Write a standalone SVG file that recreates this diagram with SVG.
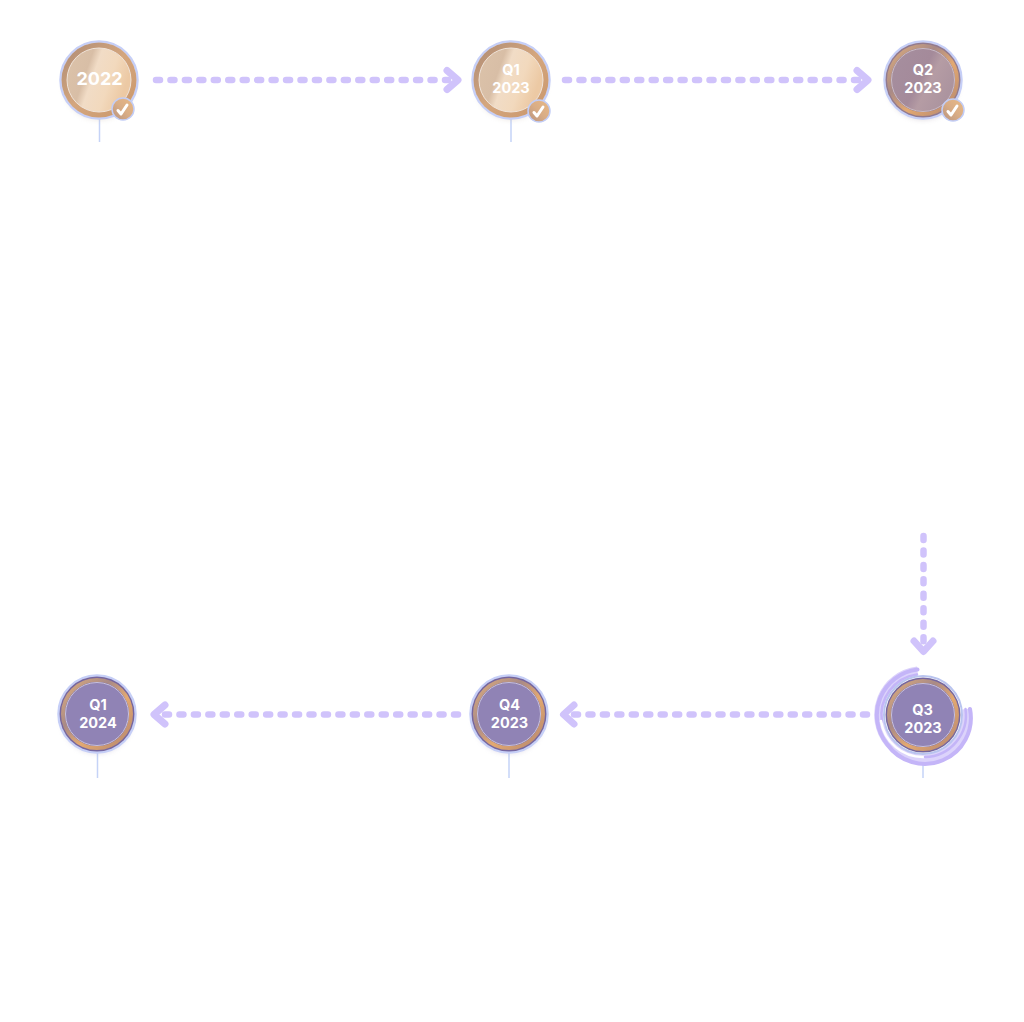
<svg xmlns="http://www.w3.org/2000/svg" width="1024" height="1022" viewBox="0 0 1024 1022">
<style>
.bg{fill:#fff}
.dash{fill:none;stroke:#d0c3fb;stroke-width:6.500;stroke-linecap:round;stroke-dasharray:4 10.450}
.head{fill:none;stroke:#d0c3fb;stroke-width:7;stroke-linecap:round;stroke-linejoin:round}
.stem{stroke:#c5d3f7;stroke-width:1.500;fill:none}
.halo{fill:none;stroke:#c6cff7;stroke-width:2.500}
.lbl{font-family:"Inter","Liberation Sans",sans-serif;font-weight:700;fill:#fff;text-anchor:middle}
.s14{font-size:14.500px}
.s18{font-size:18px}
.tick{fill:none;stroke:#fff;stroke-width:3;stroke-linecap:round;stroke-linejoin:round}
.arc{fill:none;stroke:#c4b5f8;stroke-linecap:round}
.rim{fill:none;stroke:#c9c2dd;stroke-width:1}
</style>
<defs>
<linearGradient id="ringGold" x1="0" y1="0" x2="1" y2="1">
<stop offset="0" stop-color="#dfae7c"/><stop offset=".35" stop-color="#a98a86"/><stop offset=".6" stop-color="#e3a971"/><stop offset="1" stop-color="#b28570"/>
</linearGradient>
<linearGradient id="ringLight" x1="0" y1="0" x2="1" y2="1">
<stop offset="0" stop-color="#ad8b75"/><stop offset=".5" stop-color="#d4a67e"/><stop offset="1" stop-color="#c9966a"/>
</linearGradient>
<linearGradient id="faceCream" x1="0" y1="0" x2="1" y2=".35">
<stop offset="0" stop-color="#dcc3aa"/><stop offset=".38" stop-color="#d8bea6"/><stop offset=".5" stop-color="#f1dcc6"/><stop offset=".75" stop-color="#f2d9bd"/><stop offset="1" stop-color="#ecc9a4"/>
</linearGradient>
<linearGradient id="faceMauve" x1="0" y1="0" x2="1" y2=".5">
<stop offset="0" stop-color="#a68f9f"/><stop offset=".55" stop-color="#a48a9a"/><stop offset=".7" stop-color="#b59ca4"/><stop offset="1" stop-color="#ac949f"/>
</linearGradient>
<linearGradient id="badge" x1="0" y1="1" x2="1" y2="0">
<stop offset="0" stop-color="#b8937f"/><stop offset=".5" stop-color="#d9ad86"/><stop offset="1" stop-color="#e9b985"/>
</linearGradient>
<filter id="soft" x="-30%" y="-30%" width="160%" height="160%"><feGaussianBlur stdDeviation="2.500"/></filter>
</defs>
<rect class="bg" width="1024" height="1022"/>

<g id="connectors">
<path class="dash" d="M156 80H448"/><path class="head" d="M447 70.500L458 80L447 89.500"/>
<path class="dash" d="M565 80H858"/><path class="head" d="M857 70.500L868 80L857 89.500"/>
<path class="dash" d="M923.500 536V642"/><path class="head" d="M914 641L923.500 651.500L933 641"/>
<path class="dash" d="M867 714.500H572"/><path class="head" d="M574 705L563.500 714.500L574 724"/>
<path class="dash" d="M458 714.500H163"/><path class="head" d="M165 705L154 714.500L165 724"/>
</g>

<g id="node-2022">
<path class="stem" d="M99.500 118V142"/>
<circle cx="99" cy="84" r="36" fill="#c9b8a8" opacity=".35" filter="url(#soft)"/>
<circle class="halo" cx="99" cy="80" r="38.500"/>
<circle cx="99" cy="80" r="37.500" fill="url(#ringLight)"/>
<circle cx="99" cy="80" r="32" fill="url(#faceCream)" stroke="#f0e4da" stroke-width="1"/>
<text class="lbl s18" x="99.500" y="84.500">2022</text>
<circle cx="123" cy="109" r="11" fill="url(#badge)" stroke="#c2cdf6" stroke-width="1.500"/>
<path class="tick" d="M118 110.500L121 114L127 105"/>
</g>

<g id="node-q1-2023">
<path class="stem" d="M511 118V142"/>
<circle cx="511" cy="84" r="36" fill="#c9b8a8" opacity=".35" filter="url(#soft)"/>
<circle class="halo" cx="511" cy="80" r="38.500"/>
<circle cx="511" cy="80" r="37.500" fill="url(#ringLight)"/>
<circle cx="511" cy="80" r="32" fill="url(#faceCream)" stroke="#f0e4da" stroke-width="1"/>
<text class="lbl s14" x="511" y="75">Q1</text>
<text class="lbl s14" x="511" y="93">2023</text>
<circle cx="539" cy="111" r="11" fill="url(#badge)" stroke="#c2cdf6" stroke-width="1.500"/>
<path class="tick" d="M534 112.500L537 116L543 107"/>
</g>

<g id="node-q2-2023">
<circle cx="923" cy="84" r="36" fill="#a99aa8" opacity=".35" filter="url(#soft)"/>
<circle class="halo" cx="923" cy="80" r="38.500"/>
<circle cx="923" cy="80" r="37.500" fill="#917a8f"/>
<circle cx="923" cy="80" r="34" fill="none" stroke="url(#ringGold)" stroke-width="4"/>
<circle cx="923" cy="80" r="31.500" fill="url(#faceMauve)" stroke="#cbbcc6" stroke-width="1"/>
<text class="lbl s14" x="923" y="75">Q2</text>
<text class="lbl s14" x="923" y="93">2023</text>
<circle cx="953" cy="110" r="11" fill="url(#badge)" stroke="#c2cdf6" stroke-width="1.500"/>
<path class="tick" d="M948 111.500L951 115L957 106"/>
</g>

<g id="node-q3-2023">
<path class="stem" d="M923 760V778"/>
<path fill="none" stroke="#dcd3fb" stroke-width="9" d="M917.500 671A44 44 0 0 0 889 743A44 44 0 0 0 966.500 709"/>
<path class="arc" stroke-width="4" d="M917.500 669.500A46 46 0 0 0 887 744A46 46 0 0 0 970 709"/>
<path class="arc" stroke-width="2.500" d="M917 674.500A41 41 0 0 0 882 722"/>
<path fill="none" stroke="#fff" stroke-width="2.500" stroke-linecap="round" d="M881 721A42.500 42.500 0 0 0 924 757"/>
<path class="arc" stroke-width="2.500" d="M925 757A42 42 0 0 0 965.500 709"/>
<circle cx="923" cy="715" r="39" fill="none" stroke="#b9c4ef" stroke-width="2"/>
<circle cx="923" cy="715" r="37.500" fill="#75669f"/>
<circle cx="923" cy="715" r="34" fill="none" stroke="url(#ringGold)" stroke-width="4"/>
<circle cx="923" cy="715" r="31.500" fill="#9083b5"/>
<circle class="rim" cx="923" cy="715" r="31.500"/>
<text class="lbl s14" x="922.500" y="715">Q3</text>
<text class="lbl s14" x="923" y="733">2023</text>
</g>

<g id="node-q4-2023">
<path class="stem" d="M509 753V778"/>
<circle cx="509" cy="718" r="36" fill="#a9a2c4" opacity=".3" filter="url(#soft)"/>
<circle class="halo" cx="509" cy="714" r="38.500"/>
<circle cx="509" cy="714" r="37.500" fill="#75669f"/>
<circle cx="509" cy="714" r="34" fill="none" stroke="url(#ringGold)" stroke-width="4"/>
<circle cx="509" cy="714" r="31.500" fill="#9083b5"/>
<circle class="rim" cx="509" cy="714" r="31.500"/>
<text class="lbl s14" x="509.500" y="710">Q4</text>
<text class="lbl s14" x="509.500" y="728">2023</text>
</g>

<g id="node-q1-2024">
<path class="stem" d="M97.500 753V778"/>
<circle cx="97" cy="718" r="36" fill="#a9a2c4" opacity=".3" filter="url(#soft)"/>
<circle class="halo" cx="97" cy="714" r="38.500"/>
<circle cx="97" cy="714" r="37.500" fill="#75669f"/>
<circle cx="97" cy="714" r="34" fill="none" stroke="url(#ringGold)" stroke-width="4"/>
<circle cx="97" cy="714" r="31.500" fill="#9083b5"/>
<circle class="rim" cx="97" cy="714" r="31.500"/>
<text class="lbl s14" x="98" y="710">Q1</text>
<text class="lbl s14" x="98" y="728">2024</text>
</g>
</svg>
